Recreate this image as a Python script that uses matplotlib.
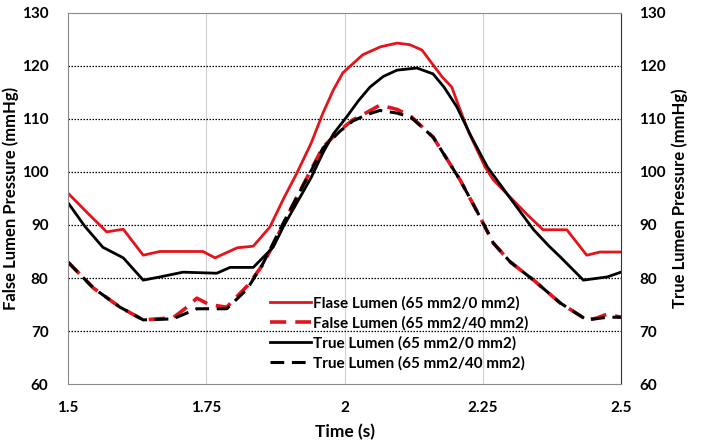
import matplotlib
matplotlib.use('Agg')
import matplotlib.pyplot as plt

plt.rcParams['font.family'] = ['Lato', 'DejaVu Sans']
plt.rcParams['font.weight'] = 'bold'
plt.rcParams['axes.labelweight'] = 'bold'

# series
t_fl0 = [1.5, 1.535, 1.57, 1.6, 1.636, 1.666, 1.7, 1.744, 1.766, 1.806, 1.835, 1.865, 1.89, 1.914,
         1.94, 1.961, 1.98, 1.997, 2.033, 2.065, 2.095, 2.118, 2.14, 2.158, 2.176, 2.194, 2.207,
         2.225, 2.254, 2.269, 2.299, 2.33, 2.359, 2.402, 2.438, 2.462, 2.5]
p_fl0 = [96, 92.3, 88.7, 89.2, 84.3, 85, 85, 85, 83.8, 85.7, 86, 89.6, 95, 99.8,
         105.5, 111.1, 115.5, 118.7, 122.1, 123.6, 124.3, 124, 123, 120.5, 118, 116, 112.3,
         107.4, 101, 98.5, 95.3, 92, 89.1, 89.1, 84.3, 84.9, 84.9]

t_tl0 = [1.5, 1.53, 1.563, 1.6, 1.636, 1.666, 1.708, 1.769, 1.793, 1.835, 1.871, 1.89, 1.914,
         1.94, 1.961, 1.98, 2.004, 2.025, 2.046, 2.07, 2.095, 2.131, 2.16, 2.18, 2.203, 2.23,
         2.258, 2.3, 2.342, 2.37, 2.39, 2.432, 2.475, 2.5]
p_tl0 = [94.2, 89.8, 85.8, 83.8, 79.6, 80.2, 81.1, 80.9, 82, 82, 85.8, 89.8, 94.2,
         99, 103.6, 107.2, 110.4, 113.4, 116, 118, 119.2, 119.6, 118.5, 116, 112.3, 106.5,
         101, 95, 89.1, 86, 84, 79.6, 80.2, 81.1]

t_fl40 = [1.5, 1.546, 1.594, 1.636, 1.69, 1.715, 1.733, 1.755, 1.787, 1.824, 1.853, 1.883, 1.914,
          1.94, 1.961, 1.992, 2.015, 2.04, 2.064, 2.095, 2.12, 2.16, 2.209, 2.24, 2.269, 2.3,
          2.342, 2.39, 2.438, 2.455, 2.475, 2.5]
p_fl40 = [83, 78.1, 74.5, 72.1, 72.5, 74.5, 76.2, 75, 74.5, 78.5, 82.6, 88.8, 95.3,
          100.5, 104.7, 107.9, 109.8, 111.2, 112.6, 111.8, 110.5, 106.6, 98.5, 92.5, 86.6, 83,
          79.6, 75.3, 72.1, 72.4, 73.2, 72.6]

t_tl40 = [1.5, 1.546, 1.594, 1.636, 1.69, 1.733, 1.787, 1.824, 1.853, 1.883, 1.914, 1.94, 1.961,
          1.992, 2.015, 2.04, 2.064, 2.095, 2.12, 2.16, 2.209, 2.24, 2.269, 2.3, 2.342, 2.39,
          2.438, 2.475, 2.5]
p_tl40 = [83, 78.1, 74.5, 72.1, 72.3, 74.2, 74.2, 77.9, 82.8, 89.1, 95.3, 100.3, 104.5,
          107.7, 109.6, 110.8, 111.6, 111.1, 110.3, 106.6, 98.5, 92.5, 86.6, 83, 79.6, 75.3,
          72.1, 72.6, 72.6]

labels = ['Flase Lumen (65 mm2/0 mm2)', 'False Lumen (65 mm2/40 mm2)',
          'True Lumen (65 mm2/0 mm2)', 'True Lumen (65 mm2/40 mm2)']

red = '#e3141b'
fig = plt.figure(figsize=(7.04, 4.44), dpi=100)
ax = fig.add_axes([0.0966, 0.135, 0.7855, 0.836])

ax.plot(t_fl0, p_fl0, color=red, lw=2.0, label=labels[0])
ax.plot(t_fl40, p_fl40, color=red, lw=2.6, dashes=(4.5, 2.5), label=labels[1])
ax.plot(t_tl0, p_tl0, color='black', lw=2.0, label=labels[2])
ax.plot(t_tl40, p_tl40, color='black', lw=2.2, dashes=(4.5, 2.5), label=labels[3])

ax.set_xlim(1.5, 2.5)
ax.set_ylim(60, 130)
ax.set_xticks([1.5, 1.75, 2, 2.25, 2.5])
ax.set_xticklabels(['1.5', '1.75', '2', '2.25', '2.5'])
ax.set_yticks(range(60, 131, 10))
for v in [1.75, 2, 2.25]:
    ax.axvline(v, color='#d0d0d0', lw=0.8, zorder=0)
for v in range(70, 121, 10):
    ax.axhline(v, color='black', lw=0.9, ls=(0, (1.2, 1.2)), zorder=0)

for s in ax.spines.values():
    s.set_color('#8a8a8a')
ax.spines['right'].set_color('#333333')
ax.tick_params(length=0, labelsize=11)
ax.tick_params(axis='y', pad=14)
ax.tick_params(axis='x', pad=12)
ax.set_xlabel('Time (s)', fontsize=12.5, labelpad=7)
ax.set_ylabel('False Lumen Pressure (mmHg)', fontsize=12, labelpad=2)

ax2 = ax.twinx()
ax2.set_ylim(60, 130)
ax2.set_yticks(range(60, 131, 10))
ax2.tick_params(length=0, labelsize=11, pad=13)
for s in ax2.spines.values():
    s.set_visible(False)
ax2.set_ylabel('True Lumen Pressure (mmHg)', fontsize=12, labelpad=4)

ax.legend(loc='upper left', bbox_to_anchor=(0.365, 0.238), frameon=False,
          prop={'size': 11, 'weight': 'bold'},
          handlelength=2.7, handletextpad=0.1, labelspacing=0.36, borderpad=0, borderaxespad=0)

fig.savefig('out.png', dpi=100)
